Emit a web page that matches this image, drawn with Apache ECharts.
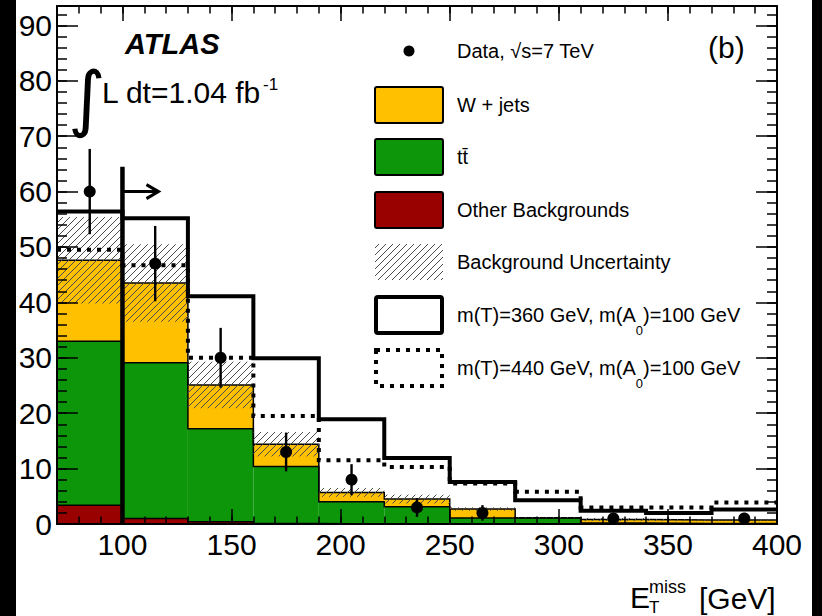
<!DOCTYPE html>
<html><head><meta charset="utf-8">
<script src="https://cdn.jsdelivr.net/npm/echarts@6/dist/echarts.min.js"></script>
<style>html,body{margin:0;padding:0;background:#fff;}#c{width:822px;height:616px;}</style>
</head><body><div id="c"></div>
<script>
// ---- data ----
const binEdges   = [70,100,130,160,190,220,250,280,310,340,370,400];
const otherBkg   = [3.4,1.0,0.4,0.1,0,0,0,0,0,0,0];
const ttbar      = [29.6,28.1,16.8,10.3,4.0,3.1,1.1,1.1,0.2,0.1,0.1];
const wjets      = [14.6,14.4,7.9,4.0,1.7,1.4,1.6,0.05,0.6,0.6,0.6];
const bkgUnc     = [7.8,7.0,4.2,2.2,0.8,0.8,0.3,0.1,0.3,0.2,0.2];
const sig360     = [56.4,55.2,41.1,29.9,18.9,11.9,7.6,4.3,2.4,2.0,2.6];
const sig440     = [49.5,46.7,30.0,19.5,11.5,10.3,7.3,5.8,3.0,3.0,3.9];
const dataVal    = [60,47,30,13,8,3,2,0,1,0,1];
const dataErr    = [7.7,6.8,5.4,3.5,2.8,1.7,1.4,0,1.0,0,1.0];
const xMajorTicks = [100,150,200,250,300,350,400];
const yMajorTicks = [0,10,20,30,40,50,60,70,80,90];
const cutValue = 100, cutLineTop = 64.5, arrowLevel = 60, arrowEnd = 116.5;

// ---- derived ----
const cum1 = otherBkg.slice();
const cum2 = cum1.map((v,i)=>v+ttbar[i]);
const cum3 = cum2.map((v,i)=>v+wjets[i]);
const centers = binEdges.slice(0,-1).map((e,i)=>(e+binEdges[i+1])/2);

const FONT = 'Liberation Sans, Arial, Helvetica, sans-serif';
const C_Y = '#ffc000', C_G = '#0e960b', C_R = '#990000';

function hatchLines(x0,y0,x1,y1,s,color){
  const out=[];
  const cMin=Math.floor((x0+y0)/s)*s, cMax=x1+y1;
  for(let c=cMin;c<=cMax;c+=s){
    const xa=Math.max(x0,c-y1), xb=Math.min(x1,c-y0);
    if(xb-xa>0.3) out.push({type:'line',shape:{x1:xa,y1:c-xa,x2:xb,y2:c-xb},style:{stroke:color,lineWidth:1}});
  }
  return out;
}
function binRows(base, top){ return binEdges.slice(0,-1).map((e,i)=>[e,binEdges[i+1],base[i],top[i]]); }
function rectSeries(name, base, top, color, z){
  return {type:'custom',name,z,silent:true,animation:false,clip:true,
    data:binRows(base,top),encode:{x:[0,1],y:[2,3]},
    renderItem:(p,api)=>{
      const a=api.coord([api.value(0),api.value(3)]), b=api.coord([api.value(1),api.value(2)]);
      return {type:'rect',shape:{x:a[0],y:a[1],width:b[0]-a[0],height:b[1]-a[1]},style:{fill:color}};
    }};
}
function stepPts(arr){ return binEdges.map((e,i)=>[e, arr[Math.min(i,arr.length-1)]]); }
function stepSeries(name, arr, width, type, z){
  return {type:'line',name,z,step:'end',silent:true,animation:false,showSymbol:false,symbol:'none',
    data:stepPts(arr),lineStyle:{color:'#000',width,type,join:'miter',cap:'butt'}};
}

const zeros = cum1.map(()=>0);
const series = [
  rectSeries('Other Backgrounds', zeros, cum1, C_R, 2),
  rectSeries('ttbar', cum1, cum2, C_G, 2),
  rectSeries('W + jets', cum2, cum3, C_Y, 2),
  stepSeries('outline1', cum1, 1.5, 'solid', 3),
  stepSeries('outline2', cum2, 1.5, 'solid', 3),
  stepSeries('outline3', cum3, 1.5, 'solid', 3),
  {type:'custom',name:'Background Uncertainty',z:4,silent:true,animation:false,
    data:binRows(cum3.map((v,i)=>Math.max(0,v-bkgUnc[i])), cum3.map((v,i)=>v+bkgUnc[i])),
    encode:{x:[0,1],y:[2,3]},
    renderItem:(p,api)=>{
      const a=api.coord([api.value(0),api.value(3)]), b=api.coord([api.value(1),api.value(2)]);
      return {type:'group',children:hatchLines(a[0],a[1],b[0],b[1],7,'#4a4a4a')};
    }},
  stepSeries('m(T)=440 GeV', sig440, 4, [4,6], 5),
  stepSeries('m(T)=360 GeV', sig360, 4, 'solid', 5),
  {type:'custom',name:'errors',z:6,silent:true,animation:false,
    data:centers.map((c,i)=>[c,dataVal[i],dataErr[i]]).filter(d=>d[1]>0),
    encode:{x:0,y:1},
    renderItem:(p,api)=>{
      const x=api.value(0),v=api.value(1),e=api.value(2);
      const a=api.coord([x,v+e]), b=api.coord([x,v-e]);
      return {type:'line',shape:{x1:a[0],y1:a[1],x2:b[0],y2:b[1]},style:{stroke:'#000',lineWidth:2.4}};
    }},
  {type:'scatter',name:'Data',z:7,silent:true,animation:false,symbol:'circle',symbolSize:12,
    itemStyle:{color:'#000',opacity:1},data:centers.map((c,i)=>[c,dataVal[i]]).filter(d=>d[1]>0)},
  {type:'custom',name:'cut',z:8,silent:true,animation:false,
    data:[[cutValue,cutLineTop,arrowLevel,arrowEnd]],encode:{x:[0,3],y:[1,2]},
    renderItem:(p,api)=>{
      const b=api.coord([api.value(0),0]), t=api.coord([api.value(0),api.value(1)]);
      const s=api.coord([api.value(0),api.value(2)]), e=api.coord([api.value(3),api.value(2)]);
      return {type:'group',children:[
        {type:'line',shape:{x1:b[0],y1:b[1],x2:t[0],y2:t[1]},style:{stroke:'#000',lineWidth:4.5}},
        {type:'line',shape:{x1:s[0],y1:s[1],x2:e[0],y2:e[1]},style:{stroke:'#000',lineWidth:3}},
        {type:'polyline',shape:{points:[[e[0]-12,e[1]-7],[e[0],e[1]],[e[0]-12,e[1]+7]]},style:{stroke:'#000',lineWidth:3,fill:null}}
      ]};
    }}
];

const tickStyle={color:'#000',width:1.5};
const axisText={fontFamily:FONT,fontSize:30,color:'#000'};
function xAx(pos, major){
  return {type:'value',min:70,max:400,position:pos,z:10,
    interval: major?undefined:10,
    axisLine:{show:major,onZero:false,lineStyle:{color:'#000',width:2}},
    axisTick:major?{show:true,inside:true,length:15,customValues:xMajorTicks,lineStyle:tickStyle}
                  :{show:true,inside:true,length:7.5,lineStyle:tickStyle},
    axisLabel:(major&&pos==='bottom')?{show:true,customValues:xMajorTicks,margin:5,...axisText}:{show:false},
    splitLine:{show:false}};
}
function yAx(pos, major){
  return {type:'value',min:0,max:93.5,position:pos,z:10,
    interval: major?undefined:2,
    axisLine:{show:major,onZero:false,lineStyle:{color:'#000',width:2}},
    axisTick:major?{show:true,inside:true,length:21,customValues:yMajorTicks,lineStyle:tickStyle}
                  :{show:true,inside:true,length:10,lineStyle:tickStyle},
    axisLabel:(major&&pos==='left')?{show:true,customValues:yMajorTicks,margin:5,...axisText}:{show:false},
    splitLine:{show:false}};
}

// ---- legend & annotations (layout) ----
const LX=375, LW=68, TX=457;
const legendRows=[
  {kind:'dot', y:51, text:'Data, √s=7 TeV'},
  {kind:'fill', color:C_Y, y:105, text:'W + jets'},
  {kind:'fill', color:C_G, y:157, text:'tt\u0304'},
  {kind:'fill', color:C_R, y:210, text:'Other Backgrounds'},
  {kind:'hatch', y:262, text:'Background Uncertainty'},
  {kind:'solid', y:315, text:'m(T)=360 GeV, m(A{sub|0})=100 GeV'},
  {kind:'dash', y:368, text:'m(T)=440 GeV, m(A{sub|0})=100 GeV'}
];
const graphics=[
  {type:'rect',z:100,shape:{x:0,y:0,width:16,height:616},style:{fill:'#000'}},
  {type:'rect',z:100,shape:{x:812,y:0,width:10,height:616},style:{fill:'#000'}}
];
legendRows.forEach(r=>{
  const y0=r.y-18, h=36;
  if(r.kind==='dot') graphics.push({type:'circle',z:50,shape:{cx:LX+LW/2,cy:r.y,r:5.5},style:{fill:'#000'}});
  if(r.kind==='fill') graphics.push({type:'rect',z:50,shape:{x:LX,y:y0,width:LW,height:h,r:2},style:{fill:r.color,stroke:'#000',lineWidth:2}});
  if(r.kind==='hatch') graphics.push({type:'group',z:50,children:hatchLines(LX,y0,LX+LW,y0+h,7,'#4a4a4a')});
  if(r.kind==='solid') graphics.push({type:'rect',z:50,shape:{x:LX+1,y:y0,width:LW-2,height:h,r:2},style:{fill:'#fff',stroke:'#000',lineWidth:4}});
  if(r.kind==='dash') graphics.push({type:'rect',z:50,shape:{x:LX+1,y:y0,width:LW-2,height:h},style:{fill:'#fff',stroke:'#000',lineWidth:4,lineDash:[4,6]}});
  graphics.push({type:'text',z:50,x:TX,y:r.y,style:{text:r.text,fontFamily:FONT,fontSize:20,fill:'#000',
    align:'left',verticalAlign:'middle',textAlign:'left',textVerticalAlign:'middle',
    rich:{sub:{fontFamily:FONT,fontSize:13,fill:'#000',padding:[30,0,0,0]}}}});
});
function txt(x,y,text,size,extra){
  return Object.assign({type:'text',z:50,x,y,style:Object.assign({text,fontFamily:FONT,fontSize:size,fill:'#000',
    align:'left',verticalAlign:'middle',textAlign:'left',textVerticalAlign:'middle'},extra||{})});
}
graphics.push(txt(125,44,'ATLAS',29,{fontWeight:'bold',fontStyle:'italic'}));
graphics.push(txt(68,98,'∫',72,{fontFamily:'DejaVu Sans'}));
graphics.push(txt(102,92,'L dt=1.04 fb',30));
graphics.push(txt(263,84,'-1',17));
graphics.push(txt(708,47,'(b)',30));
graphics.push(txt(630,597,'E',30));
graphics.push(txt(649,587,'miss',18));
graphics.push(txt(649,607,'T',17));
graphics.push(txt(699,598,'[GeV]',30));

const chart=echarts.init(document.getElementById('c'),null,{renderer:'svg',width:822,height:616});
chart.setOption({
  animation:false,
  backgroundColor:'#fff',
  grid:{left:57,right:45,top:6,bottom:92,show:false},
  xAxis:[xAx('bottom',true),xAx('bottom',false),xAx('top',true),xAx('top',false)],
  yAxis:[yAx('left',true),yAx('left',false),yAx('right',true),yAx('right',false)],
  series:series.map(s=>Object.assign({xAxisIndex:0,yAxisIndex:0},s)),
  graphic:{elements:graphics}
});
</script></body></html>
